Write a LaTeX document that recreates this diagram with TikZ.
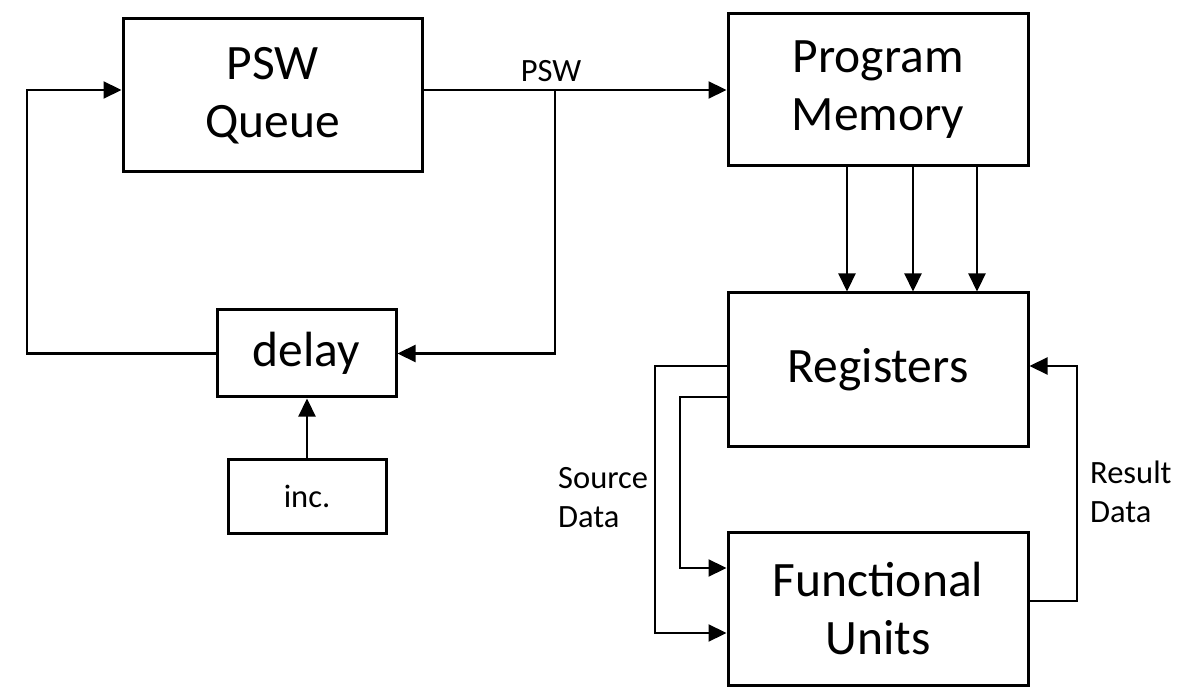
\documentclass[tikz,border=0pt]{standalone}
\usepackage{fontspec}
\setmainfont{Carlito}
\usetikzlibrary{arrows.meta}
\begin{document}
\begin{tikzpicture}[x=1pt,y=-1pt,
  box/.style={draw, line width=3pt, inner sep=0pt, align=center, font=\fontsize{49.5}{58}\selectfont},
  smallbox/.style={box, font=\fontsize{32.5}{39}\selectfont},
  conn/.style={line width=2.2pt},
  arr/.style={conn, -{Triangle[length=18pt,width=17pt]}},
  lbl/.style={inner sep=0pt, align=left, font=\fontsize{32.5}{39}\selectfont}]
\useasboundingbox (0,0) rectangle (1186,700);
\fill[white] (0,0) rectangle (1186,700);
% boxes
\node[box, minimum width=299pt, minimum height=153pt] (psw) at (272.5,95.5) {PSW\\Queue};
\node[box, minimum width=300pt, minimum height=152pt] (pm) at (878,90) {Program\\Memory};
\node[box, minimum width=300pt, minimum height=153pt] (reg) at (878,369.5) {Registers};
\node[box, minimum width=300pt, minimum height=153pt] (fu) at (878,608.5) {Functional\\Units};
\node[box, minimum width=179pt, minimum height=87pt] (delay) at (306.5,353.5) {delay};
\node[smallbox, minimum width=158pt, minimum height=74pt] (inc) at (307,496) {inc.};
% helper coordinates
\coordinate (lft) at (27,90);
\coordinate (br) at (555,90);
\coordinate (a1) at (847,0);
\coordinate (a2) at (913,0);
\coordinate (a3) at (977,0);
\coordinate (s1) at (655,0);
\coordinate (s2) at (680,0);
\coordinate (ry1) at (0,366);
\coordinate (ry2) at (0,397);
\coordinate (fy1) at (0,633);
\coordinate (fy2) at (0,568);
\coordinate (fy3) at (0,601);
\coordinate (rx) at (1077,0);
% connectors
\draw[arr] (delay.west) -| (lft) -- (lft -| psw.west);
\draw[arr] (psw.east |- br) -- (pm.west |- br);
\draw[arr] (br) |- (delay.east);
\draw[arr] (inc.north) -- (inc.north |- delay.south);
\draw[arr] (pm.south -| a1) -- (reg.north -| a1);
\draw[arr] (pm.south -| a2) -- (reg.north -| a2);
\draw[arr] (pm.south -| a3) -- (reg.north -| a3);
\draw[arr] (reg.west |- ry1) -- (s1 |- ry1) -- (s1 |- fy1) -- (fu.west |- fy1);
\draw[arr] (reg.west |- ry2) -- (s2 |- ry2) -- (s2 |- fy2) -- (fu.west |- fy2);
\draw[arr] (fu.east |- fy3) -- (rx |- fy3) -- (rx |- ry1) -- (reg.east |- ry1);
% labels
\node[lbl, anchor=base] (lpsw) at (551,82) {PSW};
\node[lbl, anchor=base west] (lsrc) at (558,527) {Source\\Data};
\node[lbl, anchor=base west] (lres) at (1090,522) {Result\\Data};
\end{tikzpicture}
\end{document}
